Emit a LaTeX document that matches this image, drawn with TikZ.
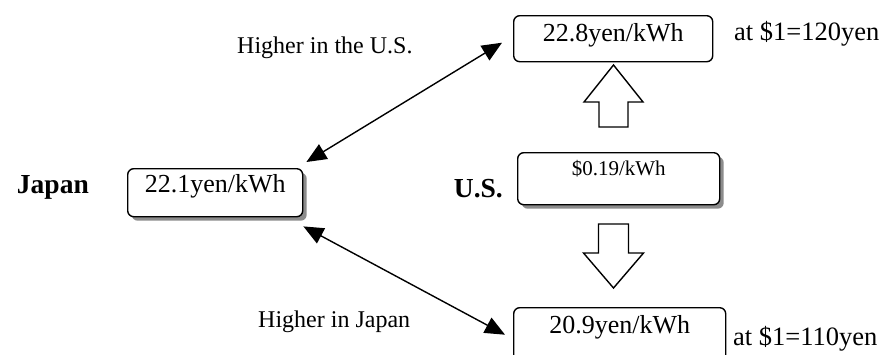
\documentclass[tikz,border=0pt]{standalone}
\usepackage{fontspec}
\setmainfont{Liberation Serif}
\usetikzlibrary{arrows.meta,shadows}

\begin{document}
\begin{tikzpicture}[
   x=1pt,y=-1pt,
   box/.style ={draw,fill=white,rounded corners=6pt,line width=1.4pt,inner sep=0pt,align=center,anchor=north west,font=\fontsize{26}{30}\selectfont},
   shade/.style={drop shadow={shadow xshift=4pt,shadow yshift=-4pt,fill=black!45,opacity=1}},
   lbl/.style ={font=\fontsize{24}{28}\selectfont,inner sep=0pt,anchor=base west},
   rate/.style ={font=\fontsize{26.5}{30}\selectfont,inner sep=0pt,anchor=base west},
   cty/.style ={font=\fontsize{27.5}{30}\selectfont\bfseries,inner sep=0pt},
   dbl/.style ={{Triangle[length=20pt,width=17pt]}-{Triangle[length=20pt,width=17pt]},line width=1.4pt},
   blk/.style ={draw,fill=white,line width=1.4pt,line join=miter}
  ]
  \useasboundingbox (0,0) rectangle (890,354);

  % price boxes
  \node[box,minimum width=199pt,text height=26pt,text depth=20pt] (usd120) at (513,15) {22.8yen/kWh};
  \node[box,shade,minimum width=202pt,text height=23pt,text depth=29pt,font=\fontsize{21}{24}\selectfont] (usd) at (517,152) {\$0.19/kWh};
  \node[box,shade,minimum width=175pt,text height=24pt,text depth=24pt] (jpy) at (127,168) {22.1yen/kWh};
  \node[box,minimum width=212pt,text height=26pt,text depth=28pt] (usd110) at (513,307) {20.9yen/kWh};

  % country names
  \node[cty,anchor=base east] (jp) at (89,193) {Japan};
  \node[cty,anchor=base east] (us) at (503,197) {U.S.};

  % rates and comparisons
  \node[rate] (r120) at (734,40) {at \$1=120yen};
  \node[rate] (r110) at (733,345) {at \$1=110yen};
  \node[lbl] (hus) at (237,53) {Higher in the U.S.};
  \node[lbl] (hjp) at (258,327) {Higher in Japan};

  % conversions
  \coordinate (uptip) at (613.5,65);
  \coordinate (dntip) at (613.5,288);
  \draw[blk] (uptip) -- ++(29.5,37) -- ++(-15,0) -- ++(0,25) -- ++(-29,0) -- ++(0,-25) -- ++(-15,0) -- cycle;
  \draw[blk] (dntip) -- ++(30,-35) -- ++(-15,0) -- ++(0,-29) -- ++(-30,0) -- ++(0,29) -- ++(-15,0) -- cycle;

  \draw[dbl] ([xshift=3pt,yshift=6pt]jpy.north east) -- ([xshift=-11pt,yshift=-4pt]usd120.west);
  \draw[dbl] ([yshift=-9pt]jpy.south east) -- ([xshift=-8pt]usd110.west);
\end{tikzpicture}
\end{document}
